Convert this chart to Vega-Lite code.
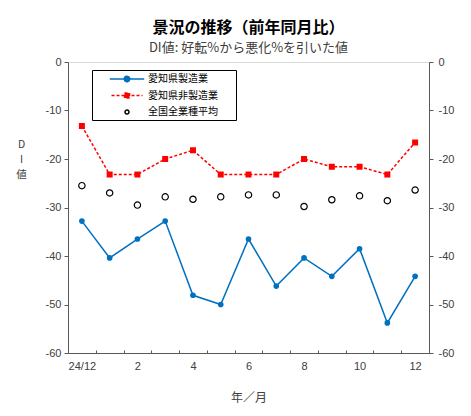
{
  "$schema": "https://vega.github.io/schema/vega-lite/v6.json",
  "autosize": {"type": "none"},
  "padding": {"left": 68, "top": 62, "right": 42, "bottom": 63},
  "width": 361,
  "height": 291,
  "background": "#FFFFFF",
  "title": {
    "text": "景況の推移（前年同月比）",
    "subtitle": "DI値: 好転%から悪化%を引いた値",
    "anchor": "middle",
    "font": "Noto Sans CJK JP",
    "fontSize": 16,
    "fontWeight": "bold",
    "color": "#000000",
    "subtitleFont": "Noto Sans CJK JP",
    "subtitleFontSize": 13,
    "subtitleColor": "#404040",
    "subtitlePadding": 6,
    "offset": 1
  },
  "data": {
    "values": [
      {"m": "24/12", "s": "愛知県製造業", "v": -32.8},
      {"m": "1", "s": "愛知県製造業", "v": -40.4},
      {"m": "2", "s": "愛知県製造業", "v": -36.5},
      {"m": "3", "s": "愛知県製造業", "v": -32.8},
      {"m": "4", "s": "愛知県製造業", "v": -48.1},
      {"m": "5", "s": "愛知県製造業", "v": -50.0},
      {"m": "6", "s": "愛知県製造業", "v": -36.5},
      {"m": "7", "s": "愛知県製造業", "v": -46.2},
      {"m": "8", "s": "愛知県製造業", "v": -40.4},
      {"m": "9", "s": "愛知県製造業", "v": -44.2},
      {"m": "10", "s": "愛知県製造業", "v": -38.5},
      {"m": "11", "s": "愛知県製造業", "v": -53.8},
      {"m": "12", "s": "愛知県製造業", "v": -44.2},
      {"m": "24/12", "s": "愛知県非製造業", "v": -13.2},
      {"m": "1", "s": "愛知県非製造業", "v": -23.2},
      {"m": "2", "s": "愛知県非製造業", "v": -23.2},
      {"m": "3", "s": "愛知県非製造業", "v": -20.0},
      {"m": "4", "s": "愛知県非製造業", "v": -18.2},
      {"m": "5", "s": "愛知県非製造業", "v": -23.2},
      {"m": "6", "s": "愛知県非製造業", "v": -23.2},
      {"m": "7", "s": "愛知県非製造業", "v": -23.2},
      {"m": "8", "s": "愛知県非製造業", "v": -20.0},
      {"m": "9", "s": "愛知県非製造業", "v": -21.6},
      {"m": "10", "s": "愛知県非製造業", "v": -21.6},
      {"m": "11", "s": "愛知県非製造業", "v": -23.2},
      {"m": "12", "s": "愛知県非製造業", "v": -16.6},
      {"m": "24/12", "s": "全国全業種平均", "v": -25.5},
      {"m": "1", "s": "全国全業種平均", "v": -27.0},
      {"m": "2", "s": "全国全業種平均", "v": -29.5},
      {"m": "3", "s": "全国全業種平均", "v": -27.8},
      {"m": "4", "s": "全国全業種平均", "v": -28.3},
      {"m": "5", "s": "全国全業種平均", "v": -27.8},
      {"m": "6", "s": "全国全業種平均", "v": -27.4},
      {"m": "7", "s": "全国全業種平均", "v": -27.4},
      {"m": "8", "s": "全国全業種平均", "v": -29.8},
      {"m": "9", "s": "全国全業種平均", "v": -28.4},
      {"m": "10", "s": "全国全業種平均", "v": -27.6},
      {"m": "11", "s": "全国全業種平均", "v": -28.6},
      {"m": "12", "s": "全国全業種平均", "v": -26.4}
    ]
  },
  "encoding": {
    "x": {
      "field": "m",
      "type": "ordinal",
      "sort": ["24/12", "1", "2", "3", "4", "5", "6", "7", "8", "9", "10", "11", "12"],
      "bandPosition": 0.5,
      "scale": {"type": "band", "paddingInner": 0, "paddingOuter": 0},
      "axis": {
        "title": "年／月",
        "tickBand": "extent",
        "tickSize": -3,
        "labelAngle": 0,
        "labelExpr": "indexof(['24/12','2','4','6','8','10','12'], datum.value) >= 0 ? datum.value : ''",
        "labelFont": "Liberation Sans",
        "labelFontSize": 11,
        "labelColor": "#404040",
        "labelPadding": 10,
        "labelBaseline": "top",
        "domainColor": "#595959",
        "tickColor": "#595959",
        "titleFont": "Noto Sans CJK JP",
        "titleFontSize": 12,
        "titleFontWeight": "normal",
        "titleColor": "#404040",
        "titlePadding": 21
      }
    }
  },
  "layer": [
    {
      "transform": [{"filter": "datum.s === '愛知県製造業'"}],
      "mark": {"type": "line", "color": "#0070C0", "strokeWidth": 1.5},
      "encoding": {
        "y": {
          "field": "v",
          "type": "quantitative",
          "scale": {"domain": [-60, 0], "nice": false, "zero": false},
          "axis": {
            "orient": "left",
            "values": [-60, -50, -40, -30, -20, -10, 0],
            "labelExpr": "datum.value + ''",
            "labelFont": "Liberation Sans",
            "labelFontSize": 11,
            "labelColor": "#404040",
            "labelPadding": 3,
            "tickSize": 4,
            "domainColor": "#595959",
            "tickColor": "#595959",
            "title": ["D", "I", "値"],
            "titleAngle": 0,
            "titleX": -47,
            "titleY": 77,
            "titleAlign": "center",
            "titleBaseline": "top",
            "titleLineHeight": 15,
            "titleFont": "Noto Sans CJK JP",
            "titleFontSize": 10.5,
            "titleFontWeight": "normal",
            "titleColor": "#404040"
          }
        }
      }
    },
    {
      "transform": [{"filter": "datum.s === '愛知県非製造業'"}],
      "mark": {"type": "line", "color": "#FF0000", "strokeWidth": 1.5, "strokeDash": [3, 2]},
      "encoding": {"y": {"field": "v", "type": "quantitative", "axis": null}}
    },
    {
      "transform": [{"filter": "datum.s === '愛知県製造業'"}],
      "mark": {"type": "point", "shape": "circle", "filled": true, "color": "#0070C0", "size": 32, "opacity": 1},
      "encoding": {"y": {"field": "v", "type": "quantitative", "axis": null}}
    },
    {
      "transform": [{"filter": "datum.s === '愛知県非製造業'"}],
      "mark": {"type": "point", "shape": "square", "filled": true, "color": "#FF0000", "size": 36, "opacity": 1},
      "encoding": {"y": {"field": "v", "type": "quantitative", "axis": null}}
    },
    {
      "transform": [{"filter": "datum.s === '全国全業種平均'"}],
      "mark": {"type": "point", "shape": "circle", "filled": false, "color": "#000000", "size": 40, "strokeWidth": 1.2, "opacity": 1},
      "encoding": {
        "y": {
          "field": "v",
          "type": "quantitative",
          "axis": {
            "orient": "right",
            "values": [-60, -50, -40, -30, -20, -10, 0],
            "labelExpr": "datum.value + ''",
            "labelFont": "Liberation Sans",
            "labelFontSize": 11,
            "labelColor": "#404040",
            "labelPadding": 5,
            "tickSize": 4,
            "domainColor": "#595959",
            "tickColor": "#595959",
            "title": null
          }
        }
      }
    },
    {
      "mark": {"type": "point", "size": 0, "opacity": 0, "strokeWidth": 1.5},
      "encoding": {
        "y": {"field": "v", "type": "quantitative", "axis": null},
        "shape": {
          "field": "s",
          "type": "nominal",
          "scale": {
            "domain": ["愛知県製造業", "愛知県非製造業", "全国全業種平均"],
            "range": [
              "M25.7,0M1.76,0H8.64M4.65,0A0.55,0.55 0 1,1 5.75,0A0.55,0.55 0 1,1 4.65,0Z",
              "M25.7,0M2.1,0H8.3M4.7,-0.5H5.7V0.5H4.7Z",
              "M25.7,0M4.8,0A0.4,0.4 0 1,1 5.6,0A0.4,0.4 0 1,1 4.8,0Z"
            ]
          },
          "legend": {
            "title": null,
            "orient": "none",
            "legendX": 24,
            "legendY": 8,
            "padding": 3,
            "strokeColor": "#000000",
            "fillColor": "#FFFFFF",
            "labelFont": "Noto Sans CJK JP",
            "labelFontSize": 10,
            "labelColor": "#000000",
            "symbolSize": 100,
            "symbolStrokeWidth": 1.5,
            "symbolOpacity": 1,
            "labelOffset": 41,
            "rowPadding": 4.5
          }
        },
        "fill": {
          "field": "s",
          "type": "nominal",
          "scale": {"domain": ["愛知県製造業", "愛知県非製造業", "全国全業種平均"], "range": ["#0070C0", "#FF0000", "#FFFFFF"]}
        },
        "stroke": {
          "field": "s",
          "type": "nominal",
          "scale": {"domain": ["愛知県製造業", "愛知県非製造業", "全国全業種平均"], "range": ["#0070C0", "#FF0000", "#000000"]}
        },
        "strokeDash": {
          "field": "s",
          "type": "nominal",
          "scale": {"domain": ["愛知県製造業", "愛知県非製造業", "全国全業種平均"], "range": [[1, 0], [3, 2], [1, 0]]}
        }
      }
    }
  ],
  "resolve": {"axis": {"y": "independent"}},
  "config": {
    "view": {"stroke": "#D9D9D9", "strokeWidth": 1},
    "axis": {"grid": false},
    "legend": {"strokeColor": "#000000", "fillColor": "#FFFFFF", "padding": 3}
  }
}
